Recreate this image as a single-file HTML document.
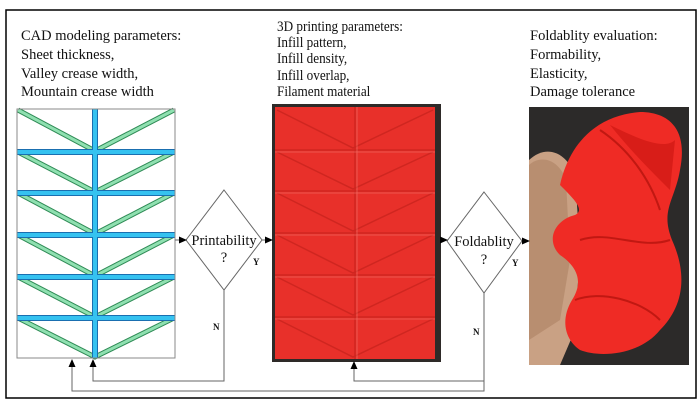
<!DOCTYPE html>
<html><head><meta charset="utf-8"><style>
html,body{margin:0;padding:0;background:#fff;width:700px;height:411px;overflow:hidden}
svg{display:block}
text{font-family:"Liberation Serif",serif;fill:#111}
</style></head><body>
<svg width="700" height="411" viewBox="0 0 700 411" xmlns="http://www.w3.org/2000/svg">
<defs>
<marker id="ar" markerWidth="8" markerHeight="8" refX="7" refY="4" orient="auto" markerUnits="userSpaceOnUse"><path d="M0,0.5 L8,4 L0,7.5z" fill="#000"/></marker>
</defs>
<rect x="6" y="10" width="690" height="388" fill="#fff" stroke="#000" stroke-width="1.5"/>
<g font-size="14.5">
<text x="21" y="40">CAD modeling parameters:</text>
<text x="21" y="59">Sheet thickness,</text>
<text x="21" y="78">Valley crease width,</text>
<text x="21" y="96">Mountain crease width</text>
</g>
<g font-size="15" transform="translate(277,0) scale(0.88,1)">
<text x="0" y="31">3D printing parameters:</text>
<text x="0" y="47">Infill pattern,</text>
<text x="0" y="63">Infill density,</text>
<text x="0" y="80">Infill overlap,</text>
<text x="0" y="96">Filament material</text>
</g>
<g font-size="14.5">
<text x="530" y="40">Foldablity evaluation:</text>
<text x="530" y="59">Formability,</text>
<text x="530" y="78">Elasticity,</text>
<text x="530" y="96">Damage tolerance</text>
</g>
<!-- CAD pattern -->
<rect x="17" y="109" width="158" height="249" fill="#fff" stroke="#888" stroke-width="1"/>
<g stroke="#2e8a55" stroke-width="5" fill="none">
<path d="M18,110 L95,151 L174,110 M18,152 L95,192 L174,152 M18,193 L95,234 L174,193 M18,235 L95,276 L174,235 M18,277 L95,317 L174,277 M18,318 L95,357 L174,318"/>
</g>
<g stroke="#8fe0b0" stroke-width="3" fill="none">
<path d="M18,110 L95,151 L174,110 M18,152 L95,192 L174,152 M18,193 L95,234 L174,193 M18,235 L95,276 L174,235 M18,277 L95,317 L174,277 M18,318 L95,357 L174,318"/>
</g>
<g stroke="#1a6fb0" stroke-width="6" fill="none">
<path d="M95,109 V358 M17,152 H175 M17,193 H175 M17,235 H175 M17,277 H175 M17,318 H175"/>
</g>
<g stroke="#35c2f0" stroke-width="4" fill="none">
<path d="M95,109 V358 M17,152 H175 M17,193 H175 M17,235 H175 M17,277 H175 M17,318 H175"/>
</g>
<rect x="17" y="109" width="158" height="249" fill="none" stroke="#888" stroke-width="1"/>
<!-- printed sheet -->
<rect x="272" y="104" width="169" height="258" fill="#2e2a28"/>
<rect x="275" y="107" width="160" height="252" fill="#e8302a"/>
<g stroke="#cf2620" stroke-width="1.5" fill="none">
<path d="M355,107 V359 M275,150 H435 M275,191 H435 M275,233 H435 M275,275 H435 M275,317 H435"/>
<path d="M277,110 L353,148 L433,110 M277,152 L353,189 L433,152 M277,193 L353,231 L433,193 M277,235 L353,273 L433,235 M277,277 L353,315 L433,277 M277,319 L353,357 L433,319"/>
</g>
<g stroke="#f07a70" stroke-width="0.8" fill="none" opacity="0.7">
<path d="M357,107 V359 M275,152 H435 M275,193 H435 M275,235 H435 M275,277 H435 M275,319 H435"/>
</g>
<!-- photo -->
<rect x="529" y="107" width="160" height="258" fill="#2c2a29"/>
<path d="M529,160 C545,145 565,150 575,175 L580,250 L575,330 L560,365 L529,365 Z" fill="#c9a184"/>
<path d="M529,165 C540,155 558,158 566,180 L570,260 L560,320 L529,340 Z" fill="#b88e70"/>
<path d="M560,185 C570,140 600,115 640,112 C670,112 688,130 680,170 C675,200 660,210 672,240 C690,280 680,310 660,330 C640,355 600,358 580,350 C565,340 560,320 572,300 C585,280 575,265 560,255 C545,240 555,220 575,215 C585,210 575,200 560,185 Z" fill="#ef2b25"/>
<path d="M600,130 C630,150 650,180 660,210 M575,300 C600,290 640,300 660,320 M580,240 C610,230 640,250 670,240" stroke="#c11812" stroke-width="2" fill="none"/>
<path d="M610,125 C640,140 665,150 675,140 L670,190 C650,170 630,150 610,125 Z" fill="#d81d18"/>
<!-- diamonds -->
<path d="M224,190 L262,240 L224,290 L186,240 Z" fill="#fff" stroke="#666" stroke-width="1"/>
<path d="M484,192 L522,241 L484,293 L447,241 Z" fill="#fff" stroke="#666" stroke-width="1"/>
<text x="224" y="245" font-size="14.5" text-anchor="middle">Printability</text>
<text x="224" y="262" font-size="14.5" text-anchor="middle">?</text>
<text x="484" y="246" font-size="14.5" text-anchor="middle">Foldablity</text>
<text x="484" y="264" font-size="14.5" text-anchor="middle">?</text>
<g font-size="9" font-weight="bold">
<text x="253" y="265">Y</text><text x="512" y="266">Y</text>
<text x="213" y="330">N</text><text x="473" y="335">N</text>
</g>
<!-- connectors -->
<g stroke="#666" stroke-width="1" fill="none">
<path d="M175,240 H186" marker-end="url(#ar)"/>
<path d="M262,240 H272" marker-end="url(#ar)"/>
<path d="M441,240 H447" marker-end="url(#ar)"/>
<path d="M522,241 H529" marker-end="url(#ar)"/>
<path d="M224,290 V381 H93 V360" marker-end="url(#ar)"/>
<path d="M484,293 V391 H72 V360" marker-end="url(#ar)"/>
<path d="M484,381 H354 V362" marker-end="url(#ar)"/>
</g>
</svg>
</body></html>
